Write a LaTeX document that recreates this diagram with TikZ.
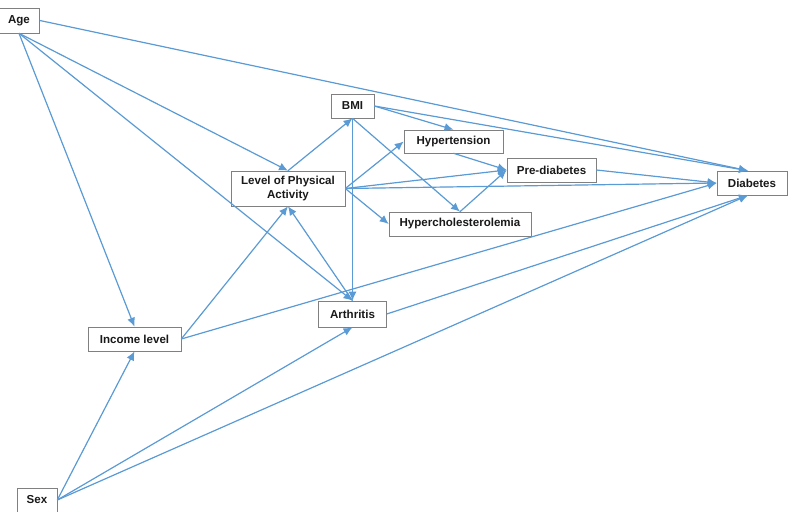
\documentclass[tikz,border=0pt]{standalone}
\usepackage{fontspec}
\setmainfont{Liberation Sans}
\usetikzlibrary{arrows,arrows.meta}
\definecolor{arrowblue}{RGB}{91,155,213}

\begin{document}
\begin{tikzpicture}[
  x=1bp, y=-1bp,
  font=\bfseries\fontsize{11.6}{13.5}\selectfont,
  factor/.style={draw=black!50, semithick, text=black!90, inner sep=0pt, minimum height=24bp, align=center},
  causes/.style={-{Latex[length=9bp,width=8bp]}, line width=1.2pt, draw=arrowblue, fill=arrowblue}]

  \useasboundingbox (0,0) rectangle (792,512);

  % Position the nodes at their coordinates
  \node[factor, minimum width=41bp, minimum height=25bp] (age) at (19,20.5) {Age};
  \node[factor, minimum width=43bp] (bmi) at (352.5,106) {BMI};
  \node[factor, minimum width=114bp, minimum height=35bp] (activity) at (288,188.5) {Level of Physical\\Activity};
  \node[factor, minimum width=99bp, minimum height=23bp] (hypertension) at (453.5,141.5) {Hypertension};
  \node[factor, minimum width=89bp] (prediabetes) at (551.5,170) {Pre-diabetes};
  \node[factor, minimum width=70bp] (diabetes) at (752,183) {Diabetes};
  \node[factor, minimum width=142bp] (hyperchol) at (460,224) {Hypercholesterolemia};
  \node[factor, minimum width=68bp, minimum height=26bp] (arthritis) at (352.5,314) {Arthritis};
  \node[factor, minimum width=93bp] (income) at (134.5,339) {Income level};
  \node[factor, minimum width=40bp] (sex) at (37,500) {Sex};

  \draw[causes] (age.east) -- (diabetes.108);
  \draw[causes] (age.south) -- (activity.north);
  \draw[causes] (age.south) -- (arthritis.north);
  \draw[causes] (age.south) -- (income.north);
  \draw[causes] (income.east) -- (activity.south);
  \draw[causes] (income.east) -- (diabetes.west);
  \draw[causes] (sex.east) -- (income.south);
  \draw[causes] (sex.east) -- (arthritis.south);
  \draw[causes] (sex.east) -- (diabetes.252);
  \draw[causes] (activity.north) -- (bmi.south);
  \draw[causes] (activity.east) -- (hypertension.west);
  \draw[causes] (activity.east) -- (prediabetes.west);
  \draw[causes] (activity.east) -- (diabetes.west);
  \draw[causes] (activity.east) -- (hyperchol.west);
  \draw[causes] (arthritis.north) -- (activity.south);
  \draw[causes] (arthritis.east) -- (diabetes.252);
  \draw[causes] (bmi.south) -- (arthritis.north);
  \draw[causes] (bmi.east) -- (hypertension.north);
  \draw[causes] (bmi.east) -- (diabetes.108);
  \draw[causes] (bmi.south) -- (hyperchol.north);
  \draw[causes] (hypertension.south) -- (prediabetes.west);
  \draw[causes] (hyperchol.north) -- (prediabetes.west);
  \draw[causes] (prediabetes.east) -- (diabetes.west);

\end{tikzpicture}
\end{document}
